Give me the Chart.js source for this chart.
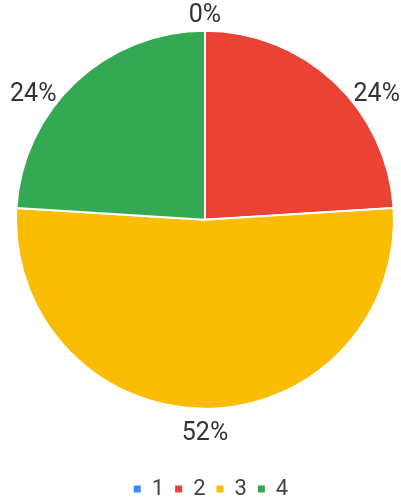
<!DOCTYPE html>
<html>
<head>
<meta charset="utf-8">
<script src="https://cdn.jsdelivr.net/npm/chart.js@4/dist/chart.umd.min.js"></script>
<style>
  html, body { margin: 0; padding: 0; background: #fff; }
  #wrap { width: 401px; height: 500px; }
</style>
</head>
<body>
<div id="wrap"><canvas id="myPieChart"></canvas></div>
<script>
const categories = ['1', '2', '3', '4'];
const counts = [0, 6, 13, 6];
const sliceColors = ['#4285F4', '#EA4335', '#FBBC04', '#34A853'];

// percentage labels outside the pie
const outsideLabels = {
    id: 'outsideLabels',
    afterLayout(chart) {
        // legend sits a little right of the pie centre
        chart.legend.left += 6;
        chart.legend.right += 6;
    },
    afterDatasetsDraw(chart) {
        const ctx = chart.ctx;
        const meta = chart.getDatasetMeta(0);
        const total = counts.reduce((a, b) => a + b, 0);
        ctx.save();
        ctx.font = '25px Roboto';
        ctx.fillStyle = '#333333';
        ctx.textBaseline = 'middle';
        meta.data.forEach((arc, i) => {
            const { x, y, startAngle, endAngle, outerRadius } = arc.getProps(['x', 'y', 'startAngle', 'endAngle', 'outerRadius'], true);
            const mid = (startAngle + endAngle) / 2;
            const cos = Math.cos(mid);
            const sin = Math.sin(mid);
            const text = Math.round(counts[i] / total * 100) + '%';
            let tx, ty;
            if (Math.abs(cos) > 0.2) {
                tx = x + (outerRadius + 28) * cos;
                ty = y + (outerRadius - 10) * sin + 5;
                ctx.textAlign = cos > 0 ? 'left' : 'right';
            } else {
                tx = x + (outerRadius + 20) * cos;
                ty = y + (outerRadius + 20) * sin + 5;
                ctx.textAlign = 'center';
            }
            ctx.fillText(text, tx, ty);
        });
        ctx.restore();
    }
};

const ctxPie = document.getElementById('myPieChart').getContext('2d');
new Chart(ctxPie, {
    type: 'pie',
    data: {
        labels: categories,
        datasets: [{
            data: counts,
            backgroundColor: sliceColors,
            borderColor: '#ffffff',
            borderWidth: 2
        }]
    },
    options: {
        maintainAspectRatio: false,
        responsive: true,
        animation: false,
        layout: {
            padding: { top: 29, left: 15, right: 6, bottom: -10 }
        },
        plugins: {
            legend: {
                position: 'bottom',
                // empty title only used to push the legend items down
                title: {
                    display: true,
                    text: '',
                    font: { size: 12 },
                    padding: { top: 0, bottom: 42 }
                },
                labels: {
                    boxWidth: 7,
                    boxHeight: 7,
                    padding: 11,
                    color: '#444444',
                    font: { family: 'Roboto', size: 22 },
                    generateLabels(chart) {
                        const items = Chart.overrides.pie.plugins.legend.labels.generateLabels(chart);
                        items.forEach(item => { item.lineWidth = 0; });
                        return items;
                    }
                }
            },
            tooltip: { enabled: false }
        }
    },
    plugins: [outsideLabels]
});
</script>
</body>
</html>
